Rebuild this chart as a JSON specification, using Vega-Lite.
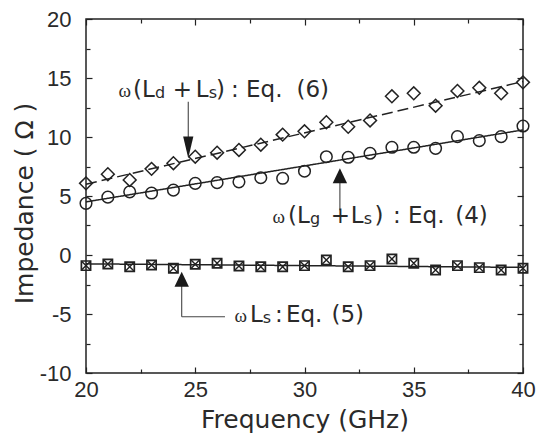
{
  "$schema": "https://vega.github.io/schema/vega-lite/v6.json",
  "width": 437,
  "height": 354,
  "autosize": "none",
  "padding": {"left": 86, "top": 19, "right": 14, "bottom": 66},
  "background": "white",
  "config": {
    "view": {"stroke": "#222222", "strokeWidth": 1.5},
    "font": "DejaVu Sans",
    "axis": {
      "grid": false,
      "domain": false,
      "tickColor": "#222222",
      "tickWidth": 1.2,
      "labelFont": "Liberation Sans",
      "labelFontSize": 22,
      "labelColor": "#2a2a2a",
      "labelFlush": false,
      "labelOverlap": false,
      "titleFont": "DejaVu Sans",
      "titleFontSize": 25,
      "titleFontWeight": "normal",
      "titleColor": "#2a2a2a"
    }
  },
  "datasets": {
    "pts": [
      {"f": 20, "z": 6.07, "s": "Ld"}, {"f": 21, "z": 6.85, "s": "Ld"}, {"f": 22, "z": 6.36, "s": "Ld"},
      {"f": 23, "z": 7.3, "s": "Ld"}, {"f": 24, "z": 7.78, "s": "Ld"}, {"f": 25, "z": 8.33, "s": "Ld"},
      {"f": 26, "z": 8.67, "s": "Ld"}, {"f": 27, "z": 8.9, "s": "Ld"}, {"f": 28, "z": 9.35, "s": "Ld"},
      {"f": 29, "z": 10.2, "s": "Ld"}, {"f": 30, "z": 10.48, "s": "Ld"}, {"f": 31, "z": 11.25, "s": "Ld"},
      {"f": 32, "z": 10.87, "s": "Ld"}, {"f": 33, "z": 11.4, "s": "Ld"}, {"f": 34, "z": 13.45, "s": "Ld"},
      {"f": 35, "z": 13.7, "s": "Ld"}, {"f": 36, "z": 12.65, "s": "Ld"}, {"f": 37, "z": 13.9, "s": "Ld"},
      {"f": 38, "z": 14.17, "s": "Ld"}, {"f": 39, "z": 13.7, "s": "Ld"}, {"f": 40, "z": 14.63, "s": "Ld"},
      {"f": 20, "z": 4.38, "s": "Lg"}, {"f": 21, "z": 4.9, "s": "Lg"}, {"f": 22, "z": 5.35, "s": "Lg"},
      {"f": 23, "z": 5.25, "s": "Lg"}, {"f": 24, "z": 5.5, "s": "Lg"}, {"f": 25, "z": 6.07, "s": "Lg"},
      {"f": 26, "z": 6.13, "s": "Lg"}, {"f": 27, "z": 6.2, "s": "Lg"}, {"f": 28, "z": 6.55, "s": "Lg"},
      {"f": 29, "z": 6.5, "s": "Lg"}, {"f": 30, "z": 7.1, "s": "Lg"}, {"f": 31, "z": 8.33, "s": "Lg"},
      {"f": 32, "z": 8.28, "s": "Lg"}, {"f": 33, "z": 8.62, "s": "Lg"}, {"f": 34, "z": 9.13, "s": "Lg"},
      {"f": 35, "z": 9.13, "s": "Lg"}, {"f": 36, "z": 9.04, "s": "Lg"}, {"f": 37, "z": 10.03, "s": "Lg"},
      {"f": 38, "z": 9.69, "s": "Lg"}, {"f": 39, "z": 10.03, "s": "Lg"}, {"f": 40, "z": 10.93, "s": "Lg"},
      {"f": 20, "z": -0.9, "s": "Ls"}, {"f": 21, "z": -0.76, "s": "Ls"}, {"f": 22, "z": -0.99, "s": "Ls"},
      {"f": 23, "z": -0.85, "s": "Ls"}, {"f": 24, "z": -1.13, "s": "Ls"}, {"f": 25, "z": -0.79, "s": "Ls"},
      {"f": 26, "z": -0.7, "s": "Ls"}, {"f": 27, "z": -0.93, "s": "Ls"}, {"f": 28, "z": -0.99, "s": "Ls"},
      {"f": 29, "z": -0.99, "s": "Ls"}, {"f": 30, "z": -0.9, "s": "Ls"}, {"f": 31, "z": -0.42, "s": "Ls"},
      {"f": 32, "z": -0.99, "s": "Ls"}, {"f": 33, "z": -0.9, "s": "Ls"}, {"f": 34, "z": -0.34, "s": "Ls"},
      {"f": 35, "z": -0.7, "s": "Ls"}, {"f": 36, "z": -1.27, "s": "Ls"}, {"f": 37, "z": -0.9, "s": "Ls"},
      {"f": 38, "z": -1.07, "s": "Ls"}, {"f": 39, "z": -1.27, "s": "Ls"}, {"f": 40, "z": -1.13, "s": "Ls"}
    ],
    "fit": [
      {"f": 20, "z": 6.0, "s": "Ld"}, {"f": 40, "z": 14.7, "s": "Ld"},
      {"f": 20, "z": 4.5, "s": "Lg"}, {"f": 40, "z": 10.6, "s": "Lg"},
      {"f": 20, "z": -0.75, "s": "Ls"}, {"f": 40, "z": -1.05, "s": "Ls"}
    ],
    "stems": [
      {"f": 24.68, "z": 12.99, "f2": 24.68, "z2": 9.0},
      {"f": 31.62, "z": 3.8, "f2": 31.62, "z2": 6.8},
      {"f": 24.38, "z": -1.8, "f2": 24.38, "z2": -5.23},
      {"f": 24.38, "z": -5.23, "f2": 26.36, "z2": -5.23}
    ],
    "heads": [
      {"f": 24.68, "z": 8.19, "dir": "down"},
      {"f": 31.62, "z": 7.35, "dir": "up"},
      {"f": 24.38, "z": -1.42, "dir": "up"}
    ],
    "omega": [
      {"f": 21.487, "z": 13.42, "t": "ω"},
      {"f": 28.535, "z": 2.686, "t": "ω"},
      {"f": 26.8, "z": -5.653, "t": "ω"}
    ],
    "lab": [
      {"f": 22.151, "z": 13.42, "t": "(L"},
      {"f": 23.968, "z": 13.42, "t": "+"}, {"f": 25.025, "z": 13.42, "t": "L"},
      {"f": 25.95, "z": 13.42, "t": ")"}, {"f": 26.636, "z": 13.42, "t": ":"},
      {"f": 27.323, "z": 13.42, "t": "Eq."}, {"f": 29.634, "z": 13.42, "t": "(6)"},
      {"f": 29.245, "z": 2.686, "t": "(L"},
      {"f": 31.199, "z": 2.686, "t": "+"}, {"f": 32.119, "z": 2.686, "t": "L"},
      {"f": 33.2, "z": 2.686, "t": ")"}, {"f": 34.05, "z": 2.686, "t": ":"},
      {"f": 34.737, "z": 2.686, "t": "Eq."}, {"f": 36.897, "z": 2.686, "t": "(4)"},
      {"f": 27.506, "z": -5.653, "t": "L"},
      {"f": 28.65, "z": -5.653, "t": ":"}, {"f": 29.153, "z": -5.653, "t": "Eq."},
      {"f": 31.236, "z": -5.653, "t": "(5)"}
    ],
    "sub": [
      {"f": 23.158, "z": 13.42, "t": "d"}, {"f": 25.615, "z": 13.42, "t": "s"},
      {"f": 30.252, "z": 2.686, "t": "g"}, {"f": 32.712, "z": 2.686, "t": "s"},
      {"f": 28.09, "z": -5.653, "t": "s"}
    ]
  },
  "resolve": {"axis": {"x": "independent", "y": "independent"}},
  "layer": [
    {
      "data": {"name": "fit"},
      "mark": {"type": "line", "stroke": "#222222", "strokeWidth": 1.5},
      "encoding": {
        "x": {
          "field": "f", "type": "quantitative",
          "scale": {"domain": [20, 40], "nice": false, "zero": false},
          "axis": {
            "orient": "bottom",
            "title": "Frequency (GHz)",
            "values": [20, 22.5, 25, 27.5, 30, 32.5, 35, 37.5, 40],
            "labelExpr": "datum.value % 5 === 0 ? '' + datum.value : ''",
            "tickSize": {"condition": {"test": "datum.value % 5 === 0", "value": -6}, "value": -4},
            "labelPadding": 12,
            "titleBaseline": "alphabetic",
            "titleY": 54
          }
        },
        "y": {
          "field": "z", "type": "quantitative",
          "scale": {"domain": [-10, 20], "nice": false, "zero": false},
          "axis": {
            "orient": "left",
            "title": "Impedance ( Ω )",
            "values": [-10, -7.5, -5, -2.5, 0, 2.5, 5, 7.5, 10, 12.5, 15, 17.5, 20],
            "labelExpr": "datum.value % 5 === 0 ? '' + datum.value : ''",
            "tickSize": {"condition": {"test": "datum.value % 5 === 0", "value": -6}, "value": -4},
            "labelPadding": 21,
            "titleBaseline": "alphabetic",
            "titleX": -54,
            "titleY": 184
          }
        },
        "detail": {"field": "s"},
        "strokeDash": {
          "field": "s", "type": "nominal",
          "scale": {"domain": ["Ld", "Lg", "Ls"], "range": [[11, 5], [1, 0], [1, 0]]},
          "legend": null
        }
      }
    },
    {
      "data": {"name": "pts"},
      "transform": [{"filter": "datum.s === 'Ld'"}],
      "mark": {"type": "point", "shape": "diamond", "size": 165, "stroke": "#222222", "strokeWidth": 1.5, "filled": false, "opacity": 1},
      "encoding": {
        "x": {
          "field": "f", "type": "quantitative",
          "axis": {
            "orient": "top", "title": null, "labels": false,
            "values": [20, 22.5, 25, 27.5, 30, 32.5, 35, 37.5, 40],
            "tickSize": {"condition": {"test": "datum.value % 5 === 0", "value": -6}, "value": -4}
          }
        },
        "y": {
          "field": "z", "type": "quantitative",
          "axis": {
            "orient": "right", "title": null, "labels": false,
            "values": [-10, -7.5, -5, -2.5, 0, 2.5, 5, 7.5, 10, 12.5, 15, 17.5, 20],
            "tickSize": {"condition": {"test": "datum.value % 5 === 0", "value": -6}, "value": -4}
          }
        }
      }
    },
    {
      "data": {"name": "pts"},
      "transform": [{"filter": "datum.s === 'Lg'"}],
      "mark": {"type": "point", "shape": "circle", "size": 135, "stroke": "#222222", "strokeWidth": 1.5, "filled": false, "opacity": 1},
      "encoding": {
        "x": {"field": "f", "type": "quantitative", "axis": null},
        "y": {"field": "z", "type": "quantitative", "axis": null}
      }
    },
    {
      "data": {"name": "pts"},
      "transform": [{"filter": "datum.s === 'Ls'"}],
      "mark": {"type": "point", "shape": "square", "size": 85, "stroke": "#222222", "strokeWidth": 1.7, "filled": false, "opacity": 1},
      "encoding": {
        "x": {"field": "f", "type": "quantitative", "axis": null},
        "y": {"field": "z", "type": "quantitative", "axis": null}
      }
    },
    {
      "data": {"name": "pts"},
      "transform": [{"filter": "datum.s === 'Ls'"}],
      "mark": {"type": "point", "shape": "M-1,-1L1,1M-1,1L1,-1", "size": 80, "stroke": "#222222", "strokeWidth": 1.4, "filled": false, "opacity": 1},
      "encoding": {
        "x": {"field": "f", "type": "quantitative", "axis": null},
        "y": {"field": "z", "type": "quantitative", "axis": null}
      }
    },
    {
      "data": {"name": "stems"},
      "mark": {"type": "rule", "stroke": "#444444", "strokeWidth": 1.1},
      "encoding": {
        "x": {"field": "f", "type": "quantitative", "axis": null},
        "y": {"field": "z", "type": "quantitative", "axis": null},
        "x2": {"field": "f2"},
        "y2": {"field": "z2"}
      }
    },
    {
      "data": {"name": "heads"},
      "mark": {"type": "point", "filled": true, "size": 900, "fill": "#1a1a1a", "strokeWidth": 0, "opacity": 1},
      "encoding": {
        "x": {"field": "f", "type": "quantitative", "axis": null},
        "y": {"field": "z", "type": "quantitative", "axis": null},
        "shape": {
          "field": "dir", "type": "nominal",
          "scale": {"domain": ["down", "up"], "range": ["M0,0L-0.34,-1.45L0.34,-1.45Z", "M0,0L-0.48,1L0.48,1Z"]},
          "legend": null
        }
      }
    },
    {
      "data": {"name": "omega"},
      "mark": {"type": "text", "align": "left", "baseline": "alphabetic", "font": "Liberation Serif", "fontSize": 19, "fill": "#2a2a2a"},
      "encoding": {
        "x": {"field": "f", "type": "quantitative", "axis": null},
        "y": {"field": "z", "type": "quantitative", "axis": null},
        "text": {"field": "t"}
      }
    },
    {
      "data": {"name": "lab"},
      "mark": {"type": "text", "align": "left", "baseline": "alphabetic", "font": "DejaVu Sans", "fontSize": 23, "fill": "#2a2a2a"},
      "encoding": {
        "x": {"field": "f", "type": "quantitative", "axis": null},
        "y": {"field": "z", "type": "quantitative", "axis": null},
        "text": {"field": "t"}
      }
    },
    {
      "data": {"name": "sub"},
      "mark": {"type": "text", "align": "left", "baseline": "alphabetic", "font": "DejaVu Sans", "fontSize": 16, "dy": 1, "fill": "#2a2a2a"},
      "encoding": {
        "x": {"field": "f", "type": "quantitative", "axis": null},
        "y": {"field": "z", "type": "quantitative", "axis": null},
        "text": {"field": "t"}
      }
    }
  ]
}
